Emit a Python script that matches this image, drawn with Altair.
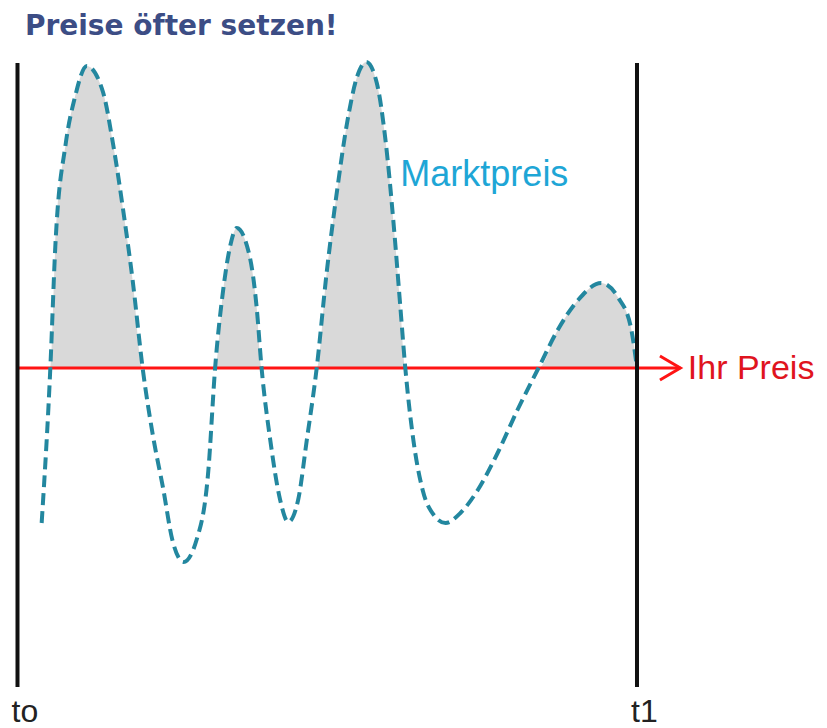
import altair as alt
import pandas as pd

# Market price curve (time t: t0=0 .. t1=100; price relative to "Ihr Preis" = 0)
t_vals = [3.9, 5.3, 6.1, 7.8, 9.2, 11.2, 13.8, 15.4, 17.1, 18.6, 20.2, 21.9, 23.5, 25.0,
          26.8, 28.9, 30.8, 31.9, 33.2, 34.3, 35.4, 37.5, 38.6, 39.4, 40.8, 42.4, 43.7,
          45.3, 46.7, 48.3, 49.9, 51.6, 53.2, 54.8, 56.3, 58.0, 59.4, 60.7, 61.8, 62.6,
          63.9, 65.4, 67.2, 69.1, 71.5, 74.3, 77.5, 80.7, 84.1, 87.2, 90.5, 94.2, 96.9,
          99.0, 100.0]
price_vals = [-15.5, 0.0, 12.1, 22.5, 26.9, 30.2, 27.6, 22.5, 15.6, 8.7, 0.0, -6.9, -12.0,
              -17.2, -19.4, -17.2, -10.3, 0.0, 7.8, 12.1, 14.0, 11.1, 6.1, 0.0, -7.2, -13.2,
              -15.4, -13.2, -7.2, 0.0, 9.5, 17.8, 24.5, 29.1, 30.6, 28.5, 22.8, 14.5, 6.1,
              0.0, -7.2, -12.2, -14.7, -15.5, -14.5, -12.2, -8.5, -4.2, 0.0, 3.8, 6.8, 8.5,
              7.1, 4.1, 0.0]

own_price = 0.0
time_marks = [0, 100]
time_labels = ["to", "t1"]

W, H = 811, 720
x_scale = alt.Scale(domain=[-1.533, 129.38], range=[0, W], nice=False, zero=False)
y_scale = alt.Scale(domain=[-36.0, 36.0], range=[H, 0], nice=False, zero=False)

df = pd.DataFrame({"t": t_vals, "p": price_vals})
df["above"] = df["p"].clip(lower=own_price)
df["base"] = own_price

X = lambda f="t": alt.X(f"{f}:Q", scale=x_scale, axis=None)
Y = lambda f="p": alt.Y(f"{f}:Q", scale=y_scale, axis=None)

area = alt.Chart(df).mark_area(color="#d9d9d9", interpolate="monotone").encode(
    x=X(), y=Y("above"), y2="base:Q"
)

curve = alt.Chart(df).mark_line(
    color="#23879f", strokeWidth=4, strokeDash=[12, 6], interpolate="monotone"
).encode(x=X(), y=Y())

vlines_df = pd.DataFrame({"t": time_marks, "top": [30.5, 30.5], "bot": [-31.9, -31.9],
                          "label": time_labels, "ly": [-35.4, -35.4]})
vlines = alt.Chart(vlines_df).mark_rule(color="#111111", strokeWidth=4).encode(
    x=X(), y=Y("top"), y2="bot:Q"
)
tlabels = alt.Chart(vlines_df).mark_text(
    align="left", baseline="alphabetic", fontSize=32, font="Liberation Sans",
    color="#222222", dx=-6
).encode(x=X(), y=Y("ly"), text="label:N")

red_df = pd.DataFrame({"t0": [0.0], "t1": [107.0], "p": [own_price]})
red_line = alt.Chart(red_df).mark_rule(color="#ff1414", strokeWidth=3).encode(
    x=X("t0"), x2="t1:Q", y=Y()
)
arrow = alt.Chart(red_df).mark_point(
    shape="M-1.7,-1L0,0L-1.7,1", size=576, filled=False, color="#ff1414",
    strokeWidth=3, opacity=1
).encode(x=X("t1"), y=Y())
ihr = alt.Chart(pd.DataFrame({"t": [108.2], "p": [own_price], "txt": ["Ihr Preis"]})).mark_text(
    align="left", baseline="middle", fontSize=34, font="Liberation Sans", color="#e0141e", dy=1
).encode(x=X(), y=Y(), text="txt:N")

markt = alt.Chart(pd.DataFrame({"t": [61.8], "p": [19.3], "txt": ["Marktpreis"]})).mark_text(
    align="left", baseline="middle", fontSize=36, font="Liberation Sans", color="#1ea6d6"
).encode(x=X(), y=Y(), text="txt:N")

title = alt.Chart(pd.DataFrame({"t": [1.2], "p": [33.3], "txt": ["Preise öfter setzen!"]})).mark_text(
    align="left", baseline="alphabetic", fontSize=28, font="DejaVu Sans", fontWeight="bold",
    color="#3c4d85"
).encode(x=X(), y=Y(), text="txt:N")

chart = alt.layer(area, red_line, arrow, curve, vlines, tlabels, ihr, markt, title).properties(
    width=W, height=H, autosize=alt.AutoSizeParams(type="none"), padding=0
).configure_view(stroke=None)

chart.save("out.html", embed_options={"renderer": "svg", "actions": False})
